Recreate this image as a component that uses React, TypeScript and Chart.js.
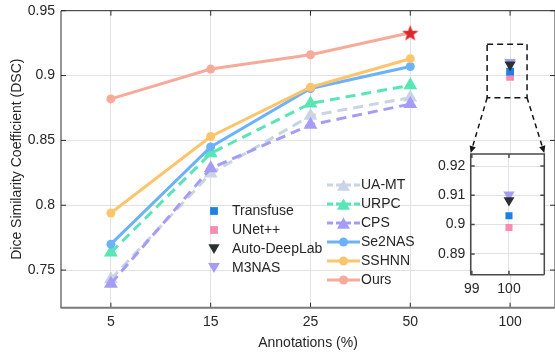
import React, { useEffect, useRef } from 'react';
import { Chart, registerables } from 'chart.js';
Chart.register(...registerables);

// ---------- data ----------
const categories = ['5', '15', '25', '50', '100'];
const oursValues = [0.882, 0.905, 0.916, 0.933];
const sshnnValues = [0.794, 0.853, 0.891, 0.913];
const se2nasValues = [0.770, 0.845, 0.890, 0.907];
const urpcValues = [0.7635, 0.840, 0.8785, 0.8925];
const uamtValues = [0.743, 0.8245, 0.869, 0.883];
const cpsValues = [0.7395, 0.8285, 0.862, 0.878];
const transfuseValue = 0.903;
const unetppValue = 0.899;
const autoDeepLabValue = 0.9083;
const m3nasValue = 0.9102;
const yTicks = [0.75, 0.8, 0.85, 0.9, 0.95];
const yRange = [0.721, 0.95];
const insetXTicks = [99, 100];
const insetYTicks = [0.89, 0.9, 0.91, 0.92];
const insetXRange = [98.97, 100.95];
const insetYRange = [0.8829, 0.9241];
const zoomXRange = [4.77, 5.17]; // category-index span of dashed zoom box

const FONT = "'Liberation Sans', Arial, Helvetica, sans-serif";
const TEXT = '#262626';
Chart.defaults.font.family = FONT;
Chart.defaults.font.size = 14;
Chart.defaults.color = TEXT;

const C = {
  ours: '#F8AA9A',
  star: '#DE262E',
  sshnn: '#FDC56B',
  se2nas: '#6CB2FB',
  urpc: '#58E6B4',
  uamt: '#C9D4E4',
  cps: '#A59CF7',
  transfuse: '#1B82E4',
  unetpp: '#F98AB0',
  adl: '#2A3131',
  m3nas: '#A59CF7',
};

function makeStar(color: string) {
  const c = document.createElement('canvas');
  const s = 20;
  c.width = s; c.height = s;
  const g = c.getContext('2d')!;
  const R = 8.6, r = 3.6, cx = s / 2, cy = s / 2 + 0.8;
  g.beginPath();
  for (let i = 0; i < 10; i++) {
    const rad = i % 2 === 0 ? R : r;
    const ang = -Math.PI / 2 + (i * Math.PI) / 5;
    const px = cx + rad * Math.cos(ang), py = cy + rad * Math.sin(ang);
    if (i === 0) g.moveTo(px, py); else g.lineTo(px, py);
  }
  g.closePath();
  g.fillStyle = color;
  g.fill();
  return c;
}

function drawMarker(ctx: CanvasRenderingContext2D, style: string, x: number, y: number, r: number, color: string, rot = 0) {
  ctx.save();
  ctx.fillStyle = color;
  ctx.beginPath();
  if (style === 'circle') {
    ctx.arc(x, y, r, 0, Math.PI * 2);
  } else if (style === 'rect') {
    const s = r * Math.SQRT1_2;
    ctx.rect(x - s, y - s, 2 * s, 2 * s);
  } else {
    const d = rot === 180 ? -1 : 1;
    const h = r * Math.sin(Math.PI / 3);
    const cy = y + d * r / 4;
    ctx.moveTo(x, cy - d * r);
    ctx.lineTo(x - h, cy + d * r / 2);
    ctx.lineTo(x + h, cy + d * r / 2);
    ctx.closePath();
  }
  ctx.fill();
  ctx.restore();
}

const framePlugin = {
  id: 'frame',
  afterDatasetsDraw(chart: any, _a: any, o: any) {
    const { ctx, chartArea: a, scales } = chart;
    const xs = scales.x, ys = scales.y;
    ctx.save();
    ctx.strokeStyle = o.color;
    ctx.lineWidth = o.width;
    ctx.beginPath();
    xs.ticks.forEach((t: any) => {
      const px = xs.getPixelForValue(t.value);
      ctx.moveTo(px, a.bottom); ctx.lineTo(px, a.bottom - o.tickLen);
      ctx.moveTo(px, a.top); ctx.lineTo(px, a.top + o.tickLen);
    });
    ys.ticks.forEach((t: any) => {
      const py = ys.getPixelForValue(t.value);
      ctx.moveTo(a.left, py); ctx.lineTo(a.left + o.tickLen, py);
      ctx.moveTo(a.right, py); ctx.lineTo(a.right - o.tickLen, py);
    });
    ctx.stroke();
    ctx.beginPath();
    ctx.moveTo(a.left, a.bottom); ctx.lineTo(a.left, a.top);
    ctx.lineTo(a.right, a.top); ctx.lineTo(a.right, a.bottom);
    ctx.stroke();
    ctx.strokeStyle = o.bottomColor;
    ctx.lineWidth = o.bottomWidth;
    ctx.beginPath();
    ctx.moveTo(a.left - 0.5, a.bottom); ctx.lineTo(a.right, a.bottom);
    ctx.stroke();
    ctx.restore();
  },
};

const whiteAreaPlugin = {
  id: 'whiteArea',
  beforeDraw(chart: any) {
    const { ctx, chartArea: a } = chart;
    ctx.save();
    ctx.fillStyle = '#ffffff';
    ctx.fillRect(a.left, a.top, a.right - a.left, a.bottom - a.top);
    ctx.restore();
  },
};

const INSET = { left: 420, top: 148, width: 135, height: 152 };

const fitX = (h: number) => (s: any) => { s.height = h; s.paddingLeft = 0; s.paddingRight = 0; };
const fitY = (w: number) => (s: any) => { s.width = w; s.paddingTop = 0; s.paddingBottom = 0; };

export default function App() {
  const mainRef = useRef<HTMLCanvasElement>(null);
  const insetRef = useRef<HTMLCanvasElement>(null);

  useEffect(() => {
    const star = makeStar(C.star);
    const pts = (vals: number[]) => vals.map((v, i) => ({ x: i + 1, y: v }));
    const lineDs = (label: string, vals: number[], color: string, style: string, dashed: boolean, r: number) => ({
      label,
      data: pts(vals),
      borderColor: color,
      backgroundColor: color,
      pointBackgroundColor: color,
      pointBorderColor: color,
      pointBorderWidth: 0,
      borderWidth: 3,
      borderDash: dashed ? [10, 6] : [],
      pointStyle: style,
      pointRadius: r,
      tension: 0,
      showLine: true,
      _legend: { style, r: style === 'circle' ? 4.5 : 7.5, dashed },
    });
    const singleDs = (label: string, value: number, xVal: number, color: string, style: string, rot: number, r: number, lr: number) => ({
      label,
      data: [{ x: xVal, y: value }],
      showLine: false,
      borderColor: color,
      backgroundColor: color,
      pointBackgroundColor: color,
      pointBorderColor: color,
      pointBorderWidth: 0,
      pointStyle: style,
      pointRotation: rot,
      pointRadius: r,
      _legend: { style, r: lr, rot },
    });

    const oursDs: any = lineDs('Ours', oursValues, C.ours, 'circle', false, 4.5);
    oursDs.pointStyle = oursValues.map((_, i) => (i === oursValues.length - 1 ? star : 'circle'));

    const mainDatasets: any[] = [
      oursDs,
      lineDs('SSHNN', sshnnValues, C.sshnn, 'circle', false, 4.5),
      lineDs('Se2NAS', se2nasValues, C.se2nas, 'circle', false, 4.5),
      lineDs('URPC', urpcValues, C.urpc, 'triangle', true, 8),
      lineDs('CPS', cpsValues, C.cps, 'triangle', true, 8),
      lineDs('UA-MT', uamtValues, C.uamt, 'triangle', true, 8),
      singleDs('Auto-DeepLab', autoDeepLabValue, 5, C.adl, 'triangle', 180, 6.5, 6.5),
      singleDs('M3NAS', m3nasValue, 5, C.m3nas, 'triangle', 180, 6.7, 6.8),
      singleDs('Transfuse', transfuseValue, 5, C.transfuse, 'rect', 0, 5.5, 5.5),
      singleDs('UNet++', unetppValue, 5, C.unetpp, 'rect', 0, 5.5, 5.5),
    ];

    const insetDatasets: any[] = [
      singleDs('Auto-DeepLab', autoDeepLabValue, 100, C.adl, 'triangle', 180, 6.3, 6.3),
      singleDs('M3NAS', m3nasValue, 100, C.m3nas, 'triangle', 180, 6.5, 6.5),
      singleDs('Transfuse', transfuseValue, 100, C.transfuse, 'rect', 0, 5, 5),
      singleDs('UNet++', unetppValue, 100, C.unetpp, 'rect', 0, 5, 5),
    ];

    // ----- inset chart -----
    const inset = new Chart(insetRef.current!, {
      type: 'scatter',
      data: { datasets: insetDatasets },
      plugins: [whiteAreaPlugin, framePlugin],
      options: {
        animation: false,
        responsive: false,
        layout: { autoPadding: false, padding: { top: 6, right: 10.7, left: 0, bottom: 0 } },
        plugins: {
          legend: { display: false },
          tooltip: { enabled: false },
          frame: { color: '#4a4a4a', width: 1.5, tickLen: 4, bottomColor: '#4a4a4a', bottomWidth: 1.5 },
        } as any,
        scales: {
          x: {
            type: 'linear',
            bounds: 'data',
            min: insetXRange[0],
            max: insetXRange[1],
            afterBuildTicks: (s: any) => { s.ticks = insetXTicks.map((v) => ({ value: v })); },
            afterFit: fitX(25.3),
            ticks: { padding: 6, callback: (v: any) => String(v), color: TEXT, font: { size: 14 } },
            grid: { color: '#e2e2e2', drawTicks: false },
            border: { display: false },
          },
          y: {
            type: 'linear',
            bounds: 'data',
            min: insetYRange[0],
            max: insetYRange[1],
            afterBuildTicks: (s: any) => { s.ticks = insetYTicks.map((v) => ({ value: v })); },
            afterFit: fitY(50.7),
            ticks: { padding: 5.5, callback: (v: any) => String(Number(Number(v).toFixed(2))), color: TEXT, font: { size: 14 } },
            grid: { color: '#e2e2e2', drawTicks: false },
            border: { display: false },
          },
        },
      } as any,
    });

    // ----- legends / zoom-box plugin for main chart -----
    const legendGroups = [
      { names: ['Transfuse', 'UNet++', 'Auto-DeepLab', 'M3NAS'], mx: 214, tx: 232, y0: 211, dy: 19, line: false },
      { names: ['UA-MT', 'URPC', 'CPS', 'Se2NAS', 'SSHNN', 'Ours'], mx: 343.5, tx: 361, y0: 185, dy: 19, line: true },
    ];
    const legendPlugin = {
      id: 'customLegend',
      afterDraw(chart: any) {
        const ctx: CanvasRenderingContext2D = chart.ctx;
        const dss = chart.data.datasets;
        ctx.save();
        ctx.font = `14px ${FONT}`;
        ctx.textBaseline = 'middle';
        ctx.textAlign = 'left';
        legendGroups.forEach((g) => {
          g.names.forEach((name, i) => {
            const ds = dss.find((d: any) => d.label === name);
            const y = g.y0 + i * g.dy;
            const L = ds._legend;
            if (g.line) {
              ctx.save();
              ctx.strokeStyle = ds.borderColor;
              ctx.lineWidth = 3;
              ctx.setLineDash(L.dashed ? [6, 3] : []);
              ctx.beginPath();
              ctx.moveTo(g.mx - 16.5, y);
              ctx.lineTo(g.mx + 16.5, y);
              ctx.stroke();
              ctx.restore();
            }
            drawMarker(ctx, L.style, g.mx, y, L.r, ds.pointBackgroundColor, L.rot || 0);
            ctx.fillStyle = TEXT;
            ctx.fillText(name, g.tx, y);
          });
        });
        ctx.restore();

        // dashed zoom box + arrows
        const xs = chart.scales.x, ys = chart.scales.y;
        const bx0 = xs.getPixelForValue(zoomXRange[0]);
        const bx1 = xs.getPixelForValue(zoomXRange[1]);
        const by0 = ys.getPixelForValue(insetYRange[1]);
        const by1 = ys.getPixelForValue(insetYRange[0]);
        ctx.save();
        ctx.strokeStyle = '#151515';
        ctx.lineWidth = 1.5;
        ctx.setLineDash([6, 4]);
        ctx.strokeRect(bx0, by0, bx1 - bx0, by1 - by0);
        const ia = inset.chartArea;
        const tl = { x: INSET.left + ia.left, y: INSET.top + ia.top - 1 };
        const tr = { x: INSET.left + ia.right, y: INSET.top + ia.top - 1 };
        const arrow = (x0: number, y0: number, x1: number, y1: number) => {
          const ang = Math.atan2(y1 - y0, x1 - x0);
          const hl = 7;
          const bx = x1 - hl * Math.cos(ang), byy = y1 - hl * Math.sin(ang);
          ctx.setLineDash([5, 4]);
          ctx.beginPath();
          ctx.moveTo(x0, y0);
          ctx.lineTo(bx, byy);
          ctx.stroke();
          ctx.setLineDash([]);
          ctx.fillStyle = '#151515';
          ctx.beginPath();
          ctx.moveTo(x1, y1);
          ctx.lineTo(bx + 3.2 * Math.sin(ang), byy - 3.2 * Math.cos(ang));
          ctx.lineTo(bx - 3.2 * Math.sin(ang), byy + 3.2 * Math.cos(ang));
          ctx.closePath();
          ctx.fill();
        };
        arrow(bx0, by1, tl.x, tl.y);
        arrow(bx1, by1, tr.x, tr.y);
        ctx.restore();
      },
    };

    const main = new Chart(mainRef.current!, {
      type: 'scatter',
      data: { datasets: mainDatasets },
      plugins: [framePlugin, legendPlugin],
      options: {
        animation: false,
        responsive: false,
        layout: { autoPadding: false, padding: { top: 10.7, right: 0, left: 0, bottom: 0 } },
        plugins: {
          legend: { display: false },
          tooltip: { enabled: false },
          frame: { color: '#2b2b2b', width: 1, tickLen: 5, bottomColor: '#7a7a7a', bottomWidth: 2 },
        } as any,
        scales: {
          x: {
            type: 'linear',
            bounds: 'data',
            min: 0.5,
            max: 5.45,
            afterBuildTicks: (s: any) => { s.ticks = categories.map((_, i) => ({ value: i + 1 })); },
            afterFit: fitX(354 - 307.7),
            ticks: { padding: 6, callback: (v: any) => categories[Math.round(Number(v)) - 1], color: TEXT, font: { size: 14 } },
            grid: { color: '#e2e2e2', drawTicks: false },
            border: { display: false },
            title: { display: true, text: 'Annotations (%)', color: TEXT, font: { size: 14 }, padding: { top: 1, bottom: 2 } },
          },
          y: {
            type: 'linear',
            bounds: 'data',
            min: yRange[0],
            max: yRange[1],
            afterBuildTicks: (s: any) => { s.ticks = yTicks.map((v) => ({ value: v })); },
            afterFit: fitY(61),
            ticks: { padding: 6, callback: (v: any) => String(Number(Number(v).toFixed(2))), color: TEXT, font: { size: 14 } },
            grid: { color: '#e2e2e2', drawTicks: false },
            border: { display: false },
            title: { display: true, text: 'Dice Similarity Coefficient (DSC)', color: TEXT, font: { size: 14 }, padding: { top: 9, bottom: 0 } },
          },
        },
      } as any,
    });

    return () => {
      main.destroy();
      inset.destroy();
    };
  }, []);

  return (
    <div style={{ position: 'absolute', left: 0, top: 0, width: 555, height: 354, background: '#fff' }}>
      <canvas ref={mainRef} width={555} height={354} style={{ position: 'absolute', left: 0, top: 0, display: 'block' }} />
      <canvas
        ref={insetRef}
        width={INSET.width}
        height={INSET.height}
        style={{ position: 'absolute', left: INSET.left, top: INSET.top, display: 'block' }}
      />
    </div>
  );
}
